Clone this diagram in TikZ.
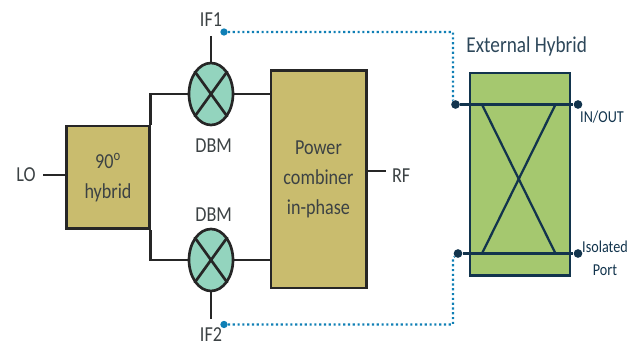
\documentclass[tikz,border=0pt]{standalone}
\usepackage{fontspec}
\setmainfont[FakeStretch=0.85]{Carlito}
\usetikzlibrary{shapes.geometric,positioning}
\definecolor{tanfill}{HTML}{C9BC6E}
\definecolor{mixfill}{HTML}{93D4BE}
\definecolor{greenfill}{HTML}{A5C86F}
\definecolor{navy}{HTML}{12344D}
\definecolor{linkblue}{HTML}{0F7FB5}
\definecolor{txt}{HTML}{3C4244}
\tikzset{
  tanbox/.style={draw=black!85,line width=2pt,fill=tanfill,text=txt,align=center,font=\fontsize{16}{22.5}\selectfont,inner sep=0pt},
  mixer/.style={ellipse,draw=black!85,line width=2pt,fill=mixfill,minimum width=33pt,minimum height=46.5pt,inner sep=0pt},
  wire/.style={draw=black!85,line width=2pt},
  txtlabel/.style={text=txt,font=\fontsize{16}{18}\selectfont,inner sep=0pt},
  portlabel/.style={text=navy,font=\fontsize{12.5}{17}\selectfont,inner sep=0pt,align=center},
  portdot/.style={circle,fill=navy,minimum size=6.5pt,inner sep=0pt},
  ifdot/.style={circle,fill=linkblue,minimum size=5.5pt,inner sep=0pt},
  link/.style={draw=linkblue,line width=1.6pt,dotted},
  hline/.style={draw=navy,line width=2pt}
}
\begin{document}
\begin{tikzpicture}[x=0.75pt,y=0.75pt]
    \useasboundingbox (0,0) rectangle (637,346);
    % left side
    \node(hyb)[tanbox,minimum width=62pt,minimum height=77pt] at (108,168.5){90\textsuperscript{o}\\hybrid};
    \node(lo)[txtlabel,left of=hyb,node distance=61.5pt,yshift=2pt]{LO};
    \coordinate(lostub) at (43,171);
    \draw[wire](lostub) -- (lostub -| hyb.west);
    \node(mix1)[mixer] at (211,252){};
    \node(mix2)[mixer] at (211,86){};
    \draw[wire](mix1.north west) -- (mix1.south east);
    \draw[wire](mix1.north east) -- (mix1.south west);
    \draw[wire](mix2.north west) -- (mix2.south east);
    \draw[wire](mix2.north east) -- (mix2.south west);
    \draw[wire](hyb.north east) |- (mix1.west);
    \draw[wire](hyb.south east) |- (mix2.west);
    \node(dbm1)[txtlabel,below of=mix1,node distance=39pt,xshift=2pt]{DBM};
    \node(dbm2)[txtlabel,above of=mix2,node distance=34pt,xshift=2pt]{DBM};
    \node(if1)[txtlabel] at (211,326){IF1};
    \node(if2)[txtlabel] at (211,11){IF2};
    \coordinate(stub1) at (211,310);
    \coordinate(stub2) at (211,27);
    \draw[wire](stub1) -- (mix1.north);
    \draw[wire](stub2) -- (mix2.south);
    % combiner
    \node(comb)[tanbox,minimum width=71.5pt,minimum height=163pt] at (318.5,166.5){Power\\combiner\\in-phase};
    \draw[wire](mix1.east) -- (mix1.east -| comb.west);
    \draw[wire](mix2.east) -- (mix2.east -| comb.west);
    \node(rf)[txtlabel,right of=comb,node distance=62pt,yshift=3pt]{RF};
    \coordinate(rfstub) at (386,175);
    \draw[wire](rfstub -| comb.east) -- (rfstub);
    % external hybrid
    \node(ext)[rectangle,draw=navy,line width=2pt,fill=greenfill,minimum width=75pt,minimum height=152pt] at (520,171.5){};
    \node(exttitle)[text=navy!75!gray,font=\fontsize{17}{18}\selectfont,inner sep=0pt,above of=ext,node distance=96pt,xshift=5pt]{External Hybrid};
    \node(in1)[portdot] at (455.5,241.5){};
    \node(out1)[portdot] at (578,241.5){};
    \node(in2)[portdot] at (458,92.5){};
    \node(out2)[portdot] at (578,92.5){};
    \draw[hline](in1) -- (out1);
    \draw[hline](in2) -- (out2);
    \coordinate(xa) at (482,241.5);
    \coordinate(xb) at (555.5,241.5);
    \coordinate(xc) at (482,92.5);
    \coordinate(xd) at (555.5,92.5);
    \draw[navy,line width=1.7pt](xa) -- (xd);
    \draw[navy,line width=1.7pt](xb) -- (xc);
    \node(inout)[portlabel,below right=2pt and -1pt of out1]{IN/OUT};
    \node(iso)[portlabel] at (605,88){Isolated\\Port};
    % dotted links
    \node(dot1)[ifdot] at (224,314){};
    \node(dot2)[ifdot] at (224,21.5){};
    \coordinate(bend1) at (453,314);
    \coordinate(bend2) at (453,21.5);
    \draw[link](dot1) -- (bend1) -- (bend1 |- in1.north) -- (in1);
    \draw[link](dot2) -- (bend2) -- (bend2 |- in2.south) -- (in2);
\end{tikzpicture}
\end{document}
